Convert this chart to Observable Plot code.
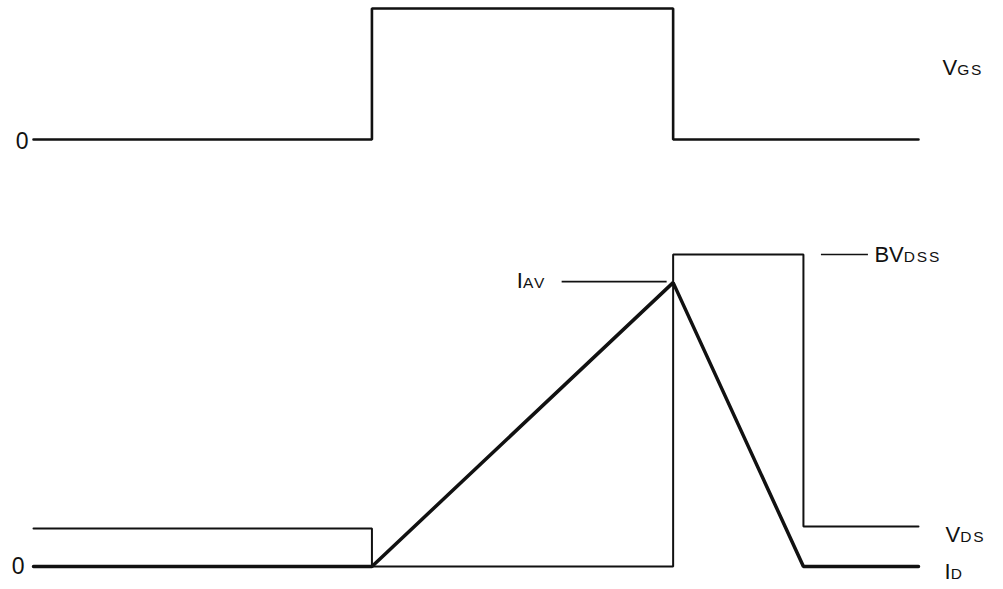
<!DOCTYPE html>
<html><head><meta charset="utf-8">
<script src="https://cdn.jsdelivr.net/npm/d3@7"></script>
<script src="https://cdn.jsdelivr.net/npm/@observablehq/plot@0.6"></script>
<style>
html,body{margin:0;padding:0;background:#fff;}
#chart svg{display:block;}
</style></head><body><div id="chart"></div>
<script>
// ---- data (time in arbitrary units, levels normalised) ----
const eventTimes = [0, 10, 18.9, 22.75, 26.15]; // start, gate on, gate off, avalanche end, end
const [tStart, tOn, tOff, tAv, tEnd] = eventTimes;

const vgsTimes  = [0, 10, 10, 18.9, 18.9, 26.15];
const vgsValues = [0, 0, 1, 1, 0, 0];

const vdsTimes  = [0, 10, 10, 18.9, 18.9, 22.75, 22.75, 26.15];
const vdsValues = [1, 1, 0, 0, 8.21, 8.21, 1.05, 1.05];

const idTimes  = [0, 10, 18.9, 22.75, 26.15];
const idValues = [0, 0, 7.47, 0, 0];

const BVDSS = 8.21, IAV = 7.47;

const labelMain = ["V", "V", "I", "BV", "I"];
const labelSub  = ["GS", "DS", "D", "DSS", "AV"];
const zeroLabel = "0";

// ---- helpers ----
const ink = "#111";
const font = "Liberation Sans, Arial, Helvetica, sans-serif";
const xRange = [33, 918];
const pxPerT = (xRange[1] - xRange[0]) / (tEnd - tStart);
const toRows = (ts, vs) => ts.map((t, i) => ({t, v: vs[i]}));

function subscriptify(svg, name, rows) {
  d3.select(svg).selectAll(`g[aria-description="${name}"] text`).each(function (_, i) {
    const r = rows[i];
    const el = d3.select(this);
    el.text("");
    el.append("tspan").text(r.main);
    el.append("tspan").attr("font-size", 15.5).attr("letter-spacing", 1.8).text(r.sub);
  });
}

function sigLabel(rows, name, opts) {
  return Plot.text(rows, {x: "t", y: "v", text: d => d.main + d.sub, fontSize: 22, fill: ink, ariaDescription: name, ...opts});
}

// ---- top panel: VGS ----
const vgsLabel = [{main: labelMain[0], sub: labelSub[0], t: tEnd, v: 0.5}];
const topSvg = Plot.plot({
  width: 1003, height: 190,
  marginTop: 0, marginRight: 0, marginBottom: 0, marginLeft: 0,
  style: {background: "white", fontFamily: font, overflow: "visible"},
  x: {domain: [tStart, tEnd], range: xRange, axis: null},
  y: {domain: [0, 1], range: [139, 8], axis: null},
  marks: [
    Plot.line(toRows(vgsTimes, vgsValues), {x: "t", y: "v", stroke: ink, strokeWidth: 2.6, strokeLinejoin: "miter"}),
    Plot.text([zeroLabel], {x: tStart, y: 0, text: d => d, textAnchor: "end", dx: -5, dy: 2, fontSize: 23, fill: ink}),
    sigLabel(vgsLabel, "vgs-label", {textAnchor: "start", dx: 24, dy: -6})
  ]
});
subscriptify(topSvg, "vgs-label", vgsLabel);

// ---- bottom panel: VDS and ID ----
const vdsLabel = [{main: labelMain[1], sub: labelSub[1], t: tEnd, v: vdsValues[vdsValues.length - 1]}];
const idLabel  = [{main: labelMain[2], sub: labelSub[2], t: tEnd, v: idValues[idValues.length - 1]}];
const bvLabel  = [{main: labelMain[3], sub: labelSub[3], t: tAv, v: BVDSS}];
const iavLabel = [{main: labelMain[4], sub: labelSub[4], t: tOff, v: IAV}];

const bottomSvg = Plot.plot({
  width: 1003, height: 399,
  marginTop: 0, marginRight: 0, marginBottom: 0, marginLeft: 0,
  style: {background: "white", fontFamily: font, overflow: "visible"},
  x: {domain: [tStart, tEnd], range: xRange, axis: null},
  y: {domain: [0, BVDSS], range: [376, 64], axis: null},
  marks: [
    Plot.line(toRows(vdsTimes, vdsValues), {x: "t", y: "v", stroke: ink, strokeWidth: 2, strokeLinejoin: "miter"}),
    Plot.line(toRows(idTimes, idValues), {x: "t", y: "v", stroke: ink, strokeWidth: 3.5, strokeLinejoin: "miter"}),
    // leader lines
    Plot.ruleY([BVDSS], {x1: tAv + 18 / pxPerT, x2: tAv + 65 / pxPerT, stroke: ink, strokeWidth: 1.6}),
    Plot.ruleY([IAV], {x1: tOff - 111 / pxPerT, x2: tOff - 6 / pxPerT, dy: -1, stroke: ink, strokeWidth: 1.6}),
    Plot.text([zeroLabel], {x: tStart, y: 0, text: d => d, textAnchor: "end", dx: -9, fontSize: 23, fill: ink}),
    sigLabel(vdsLabel, "vds-label", {textAnchor: "start", dx: 27, dy: 8}),
    sigLabel(idLabel, "id-label", {textAnchor: "start", dx: 26, dy: 5}),
    sigLabel(bvLabel, "bv-label", {textAnchor: "start", dx: 71}),
    sigLabel(iavLabel, "iav-label", {textAnchor: "end", dx: -127, dy: -2})
  ]
});
subscriptify(bottomSvg, "vds-label", vdsLabel);
subscriptify(bottomSvg, "id-label", idLabel);
subscriptify(bottomSvg, "bv-label", bvLabel);
subscriptify(bottomSvg, "iav-label", iavLabel);

const host = document.getElementById("chart");
host.appendChild(topSvg);
host.appendChild(bottomSvg);
</script>
</body></html>
